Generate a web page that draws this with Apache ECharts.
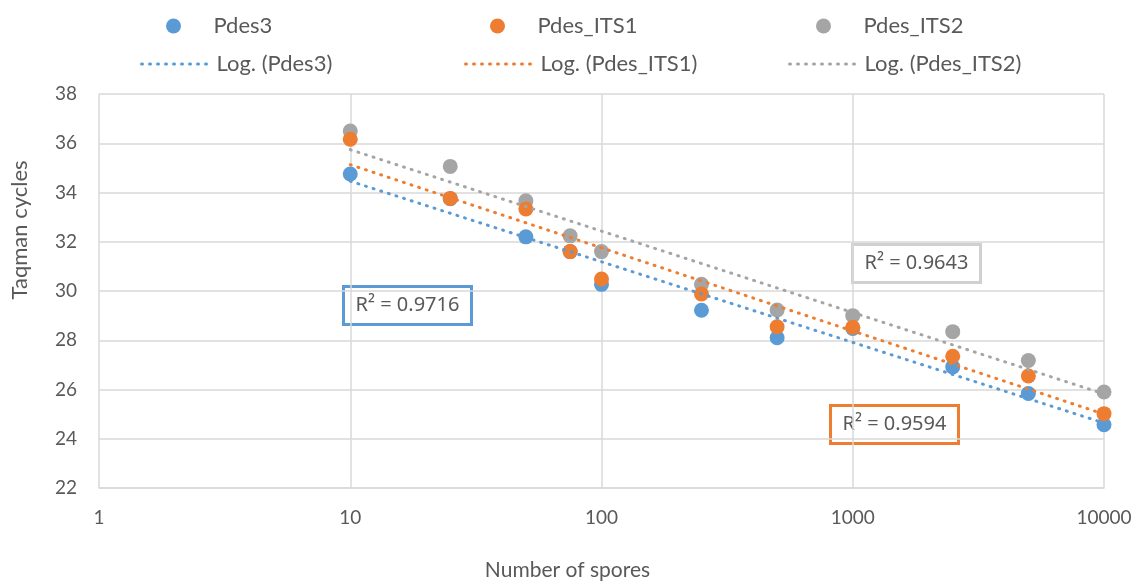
<!DOCTYPE html>
<html>
<head>
<meta charset="utf-8">
<title>Taqman cycles vs number of spores</title>
<script src="https://cdn.jsdelivr.net/npm/echarts@6/dist/echarts.min.js"></script>
<style>
    html, body { margin: 0; padding: 0; background: #fff; }
    #myChart { width: 1138px; height: 586px; }
</style>
</head>
<body>
<div id="myChart"></div>
<script>
// spore counts (x) and Taqman cycles (y)
var spores = [10, 25, 50, 75, 100, 250, 500, 1000, 2500, 5000, 10000];
var pdes3 = [34.75, 33.75, 32.2, 31.6, 30.27, 29.22, 28.1, 28.48, 26.92, 25.84, 24.57];
var pdesIts1 = [36.16, 33.76, 33.33, 31.6, 30.49, 29.88, 28.55, 28.53, 27.35, 26.55, 25.02];
var pdesIts2 = [36.5, 35.06, 33.66, 32.24, 31.6, 30.27, 29.23, 29.0, 28.35, 27.18, 25.9];

// log trendline ends (at 10 and 10000) as drawn in the reference
var trendX = [10, 10000];
var trend3 = [34.46, 24.64];
var trendIts1 = [35.13, 25.0];
var trendIts2 = [35.74, 25.82];

var yTicks = [22, 38, 2];
var xTicks = [1, 10000];

var BLUE = '#5B9BD5';
var ORANGE = '#ED7D31';
var GRAY = '#A5A5A5';
var TEXT = '#595959';
var FONT = 'Lato, "Liberation Sans", sans-serif';

function pairs(xs, ys) {
    var out = [];
    for (var i = 0; i < xs.length; i++) {
        out.push([xs[i], ys[i]]);
    }
    return out;
}

function scatter(name, color, values, z) {
    return {
        name: name,
        type: 'scatter',
        symbol: 'circle',
        symbolSize: 15,
        z: z,
        itemStyle: { color: color, opacity: 1 },
        emphasis: { disabled: true },
        data: pairs(spores, values)
    };
}

function trend(name, color, values) {
    return {
        name: name,
        type: 'line',
        symbol: 'none',
        z: 10,
        silent: true,
        lineStyle: { color: color, width: 3, type: [1, 7], cap: 'round' },
        itemStyle: { color: color },
        data: pairs(trendX, values)
    };
}

function legendItem(name, left, top, isLine) {
    var lg = {
        data: [name],
        left: left,
        top: top,
        itemWidth: 70,
        itemHeight: 15,
        itemGap: 0,
        selectedMode: false,
        textStyle: { color: TEXT, fontSize: 22, fontFamily: FONT }
    };
    if (isLine) {
        lg.itemStyle = { opacity: 0 };
        lg.lineStyle = { width: 3, type: [1, 7], cap: 'round' };
    } else {
        lg.icon = 'circle';
    }
    return lg;
}

function r2Box(left, top, width, height, color, text) {
    return {
        type: 'group',
        left: left,
        top: top,
        children: [
            {
                type: 'rect',
                shape: { x: 0, y: 0, width: width, height: height },
                style: { fill: '#fff', stroke: color, lineWidth: 3 }
            },
            {
                type: 'text',
                x: width / 2,
                y: height / 2,
                style: {
                    text: text,
                    fill: TEXT,
                    font: '20px "Noto Sans", ' + FONT,
                    align: 'center',
                    verticalAlign: 'middle'
                }
            }
        ]
    };
}

function create_image() {
    var myChart = echarts.init(document.getElementById('myChart'), null, { renderer: 'canvas' });
    var option = {
        animation: false,
        textStyle: { fontFamily: FONT },
        grid: { left: 99, right: 34, top: 94, bottom: 96, containLabel: false },
        legend: [
            legendItem('Pdes3', 161, 10, false),
            legendItem('Pdes_ITS1', 485, 10, false),
            legendItem('Pdes_ITS2', 811, 10, false),
            legendItem('Log. (Pdes3)', 135, 48, true),
            legendItem('Log. (Pdes_ITS1)', 459, 48, true),
            legendItem('Log. (Pdes_ITS2)', 783, 48, true)
        ],
        xAxis: {
            type: 'log',
            logBase: 10,
            min: xTicks[0],
            max: xTicks[1],
            name: 'Number of spores',
            nameLocation: 'middle',
            nameGap: 72,
            nameTextStyle: { color: TEXT, fontSize: 21, fontFamily: FONT, padding: [0, 68, 0, 0] },
            axisLine: { show: true, lineStyle: { color: '#D9D9D9', width: 1.5 } },
            axisTick: { show: false },
            axisLabel: {
                color: TEXT, fontSize: 19, fontFamily: FONT, margin: 20,
                formatter: function (v) { return String(v); }
            },
            splitLine: { show: true, lineStyle: { color: '#D9D9D9', width: 1.5 } }
        },
        yAxis: {
            type: 'value',
            min: yTicks[0],
            max: yTicks[1],
            interval: yTicks[2],
            name: 'Taqman cycles',
            nameLocation: 'middle',
            nameGap: 68,
            nameRotate: 90,
            nameTextStyle: { color: TEXT, fontSize: 22, fontFamily: FONT, padding: [0, 0, 0, 122] },
            axisLine: { show: false },
            axisTick: { show: false },
            axisLabel: { color: TEXT, fontSize: 19, fontFamily: FONT, margin: 22 },
            splitLine: { show: true, lineStyle: { color: '#D9D9D9', width: 1.5 } }
        },
        series: [
            scatter('Pdes_ITS2', GRAY, pdesIts2, 2),
            scatter('Pdes3', BLUE, pdes3, 3),
            scatter('Pdes_ITS1', ORANGE, pdesIts1, 4),
            trend('Log. (Pdes3)', BLUE, trend3),
            trend('Log. (Pdes_ITS1)', ORANGE, trendIts1),
            trend('Log. (Pdes_ITS2)', GRAY, trendIts2)
        ],
        graphic: [
            r2Box(342, 285, 128, 38, BLUE, 'R² = 0.9716'),
            r2Box(851, 243, 128, 38, '#D0D0D0', 'R² = 0.9643'),
            r2Box(829, 404, 128, 38, ORANGE, 'R² = 0.9594')
        ]
    };
    myChart.setOption(option);
}

create_image();
</script>
</body>
</html>
